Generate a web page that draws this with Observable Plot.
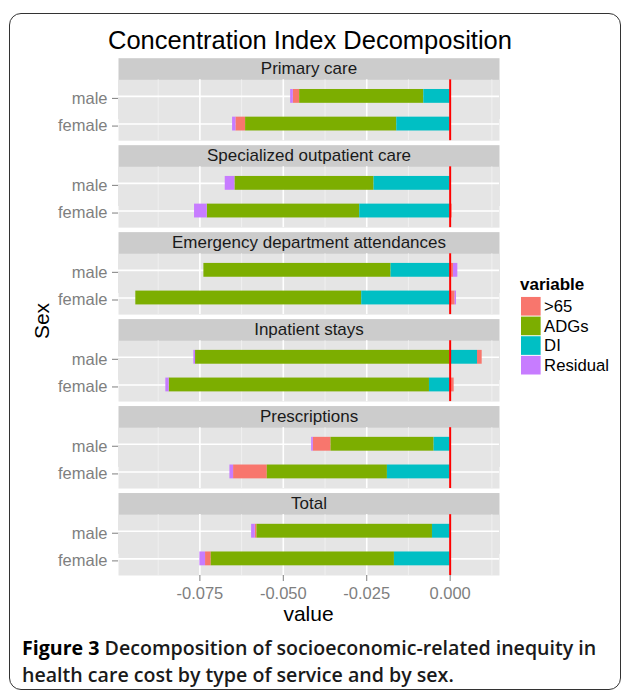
<!DOCTYPE html>
<html>
<head>
<meta charset="utf-8">
<script src="https://cdn.jsdelivr.net/npm/d3@7"></script>
<script src="https://cdn.jsdelivr.net/npm/@observablehq/plot@0.6"></script>
<style>
  body { margin: 0; background: #fff; font-family: "Liberation Sans", Arial, sans-serif; }
  #wrap { position: relative; width: 629px; height: 692px; overflow: hidden; background: #fff; }
  #box { position: absolute; left: 9px; top: 13px; width: 612px; height: 677px; border: 1.5px solid #333; border-radius: 12px; box-sizing: border-box; }
  #title { position: absolute; left: 0; width: 620px; top: 25px; text-align: center; font-size: 25.5px; line-height: 30px; color: #000; }
  #chart { position: absolute; left: 0; top: 0; }
  #sex { position: absolute; left: 42px; top: 321px; transform: translate(-50%, -50%) rotate(-90deg); font-size: 21px; color: #000; white-space: nowrap; }
  #xlab { position: absolute; left: 118px; width: 381px; top: 604px; text-align: center; font-size: 21px; line-height: 20px; color: #000; }
  #legtitle { position: absolute; left: 520px; top: 275px; font-size: 17px; font-weight: bold; color: #000; }
  #legend { position: absolute; left: 521px; top: 294px; }
  .cap { position: absolute; left: 22px; white-space: nowrap; font-family: "Open Sans", "Noto Sans", sans-serif; font-size: 19.6px; line-height: 27px; color: #1a1a1a; font-weight: 600; }
  .cap b { font-weight: 700; color: #000; }
</style>
</head>
<body>
<div id="wrap">
  <div id="box"></div>
  <div id="chart"></div>
  <div id="title">Concentration Index Decomposition</div>
  <div id="sex">Sex</div>
  <div id="xlab">value</div>
  <div id="legtitle">variable</div>
  <div id="legend"></div>
  <div class="cap" style="top:634px"><b>Figure 3</b> <span>Decomposition of socioeconomic-related inequity in</span></div>
  <div class="cap" style="top:661px"><span>health care cost by type of service and by sex.</span></div>
</div>
<script>
// ---- data ----
const services = ["Primary care", "Specialized outpatient care", "Emergency department attendances", "Inpatient stays", "Prescriptions", "Total"];
const sexes = ["male", "female"];
const variables = [">65", "ADGs", "DI", "Residual"];
const colors = ["#F8766D", "#7CAE00", "#00BFC4", "#C77CFF"];
const stackOrder = ["DI", "ADGs", ">65", "Residual"];
// values in order: for each service -> male, female
const over65   = [-0.0019, -0.0029,  0.0000,  0.0006,  0.0010,  0.0015,  0.0014,  0.0012, -0.0053, -0.0101, -0.0005, -0.0017];
const adgs     = [-0.0372, -0.0453, -0.0417, -0.0457, -0.0561, -0.0677, -0.0763, -0.0780, -0.0309, -0.0360, -0.0526, -0.0549];
const di       = [-0.0079, -0.0160, -0.0228, -0.0271, -0.0177, -0.0265,  0.0082, -0.0062, -0.0048, -0.0188, -0.0053, -0.0167];
const residual = [-0.0008, -0.0010, -0.0029, -0.0038,  0.0013,  0.0004, -0.0005, -0.0010, -0.0005, -0.0011, -0.0011, -0.0017];
const xTicks = [-0.075, -0.05, -0.025, 0];
const xMinorTicks = [-0.0875, -0.0625, -0.0375, -0.0125, 0.0125];

const series = [over65, adgs, di, residual];
const rows = [];
services.forEach((s, i) => sexes.forEach((sx, j) => variables.forEach((v, k) => {
  rows.push({service: s, sex: sx, variable: v, value: series[k][i * 2 + j]});
})));

// ggplot-like 5% expansion of the stacked extent
const negSums = [], posSums = [];
services.forEach((s, i) => sexes.forEach((sx, j) => {
  let n = 0, p = 0;
  series.forEach(a => { const v = a[i * 2 + j]; if (v < 0) n += v; else p += v; });
  negSums.push(n); posSums.push(p);
}));
const lo = d3.min(negSums), hi = d3.max(posSums);
const pad = (hi - lo) * 0.05;
const xDomain = [lo - pad, hi + pad];

const font = "'Liberation Sans', Arial, sans-serif";

const chart = Plot.plot({
  width: 629,
  height: 630,
  marginLeft: 118,
  marginRight: 130,
  marginTop: 79.3,
  marginBottom: 55,
  style: {fontFamily: font, background: "transparent", overflow: "visible"},
  x: {domain: xDomain},
  y: {domain: sexes, paddingInner: 0.5, paddingOuter: 0.35, round: false},
  fy: {domain: services, paddingInner: 0.3, paddingOuter: 0, round: false, axis: null},
  color: {domain: variables, range: colors},
  marks: [
    Plot.frame({fill: "#cccccc", dy: -21.6}),
    Plot.frame({fill: "#e5e5e5"}),
    Plot.gridX({ticks: xMinorTicks, stroke: "#f2f2f2", strokeOpacity: 1, strokeWidth: 0.8}),
    Plot.gridX({ticks: xTicks, stroke: "#ffffff", strokeOpacity: 1, strokeWidth: 1.6}),
    Plot.gridY({stroke: "#ffffff", strokeOpacity: 1, strokeWidth: 1.6}),
    Plot.barX(rows, Plot.stackX({x: "value", y: "sex", fy: "service", fill: "variable", order: stackOrder})),
    Plot.ruleX([0], {stroke: "#ff0000", strokeWidth: 2}),
    Plot.text(services, {fy: d => d, text: d => d, frameAnchor: "top", lineAnchor: "middle", dy: -10.8, fontSize: 17, fill: "#1a1a1a"}),
    Plot.axisY({label: null, tickSize: 6, tickPadding: 5, fontSize: 16.5, color: "#7f7f7f", dy: 2}),
    Plot.axisX({ticks: xTicks, tickFormat: d => d.toFixed(3), label: null, tickSize: 6, tickPadding: 6, fontSize: 16.5, color: "#7f7f7f"})
  ]
});
document.getElementById("chart").appendChild(chart);

const legend = Plot.plot({
  width: 110,
  height: 84,
  marginLeft: 0,
  marginRight: 90,
  marginTop: 0,
  marginBottom: 0,
  style: {fontFamily: font, background: "transparent", overflow: "visible"},
  x: {axis: null},
  y: {domain: variables, padding: 0.05},
  color: {domain: variables, range: colors},
  marks: [
    Plot.cell(variables, {y: d => d, fill: d => d}),
    Plot.axisY({anchor: "right", label: null, tickSize: 0, tickPadding: 3, fontSize: 17, color: "#000"})
  ]
});
document.getElementById("legend").appendChild(legend);
</script>
</body>
</html>
